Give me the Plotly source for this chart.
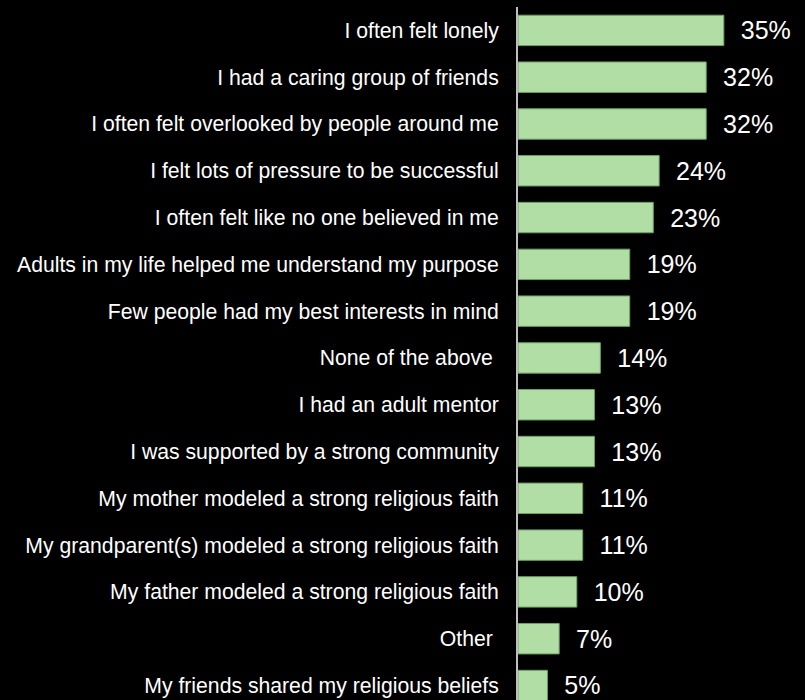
import plotly.graph_objects as go

categories = [
    "I often felt lonely",
    "I had a caring group of friends",
    "I often felt overlooked by people around me",
    "I felt lots of pressure to be successful",
    "I often felt like no one believed in me",
    "Adults in my life helped me understand my purpose",
    "Few people had my best interests in mind",
    "None of the above ",
    "I had an adult mentor",
    "I was supported by a strong community",
    "My mother modeled a strong religious faith",
    "My grandparent(s) modeled a strong religious faith",
    "My father modeled a strong religious faith",
    "Other ",
    "My friends shared my religious beliefs",
]
values = [35, 32, 32, 24, 23, 19, 19, 14, 13, 13, 11, 11, 10, 7, 5]

tick_text = [c[:-1] + "\u00a0" if c.endswith(" ") else c for c in categories]
idx = list(range(len(categories)))

fig = go.Figure(
    go.Bar(
        x=values,
        y=idx,
        orientation="h",
        marker=dict(color="#b1dea5", line=dict(color="#6f9f64", width=1)),
        text=["\u00a0\u00a0" + f"{v}%" for v in values],
        textposition="outside",
        textfont=dict(color="white", size=25, family="Liberation Sans, Arial, sans-serif"),
        cliponaxis=False,
        width=0.65,
        hoverinfo="skip",
    )
)

fig.update_layout(
    width=805,
    height=700,
    paper_bgcolor="black",
    plot_bgcolor="black",
    margin=dict(l=518, r=0, t=7, b=0),
    showlegend=False,
    font=dict(family="Liberation Sans, Arial, sans-serif", color="white"),
    xaxis=dict(
        range=[0, 48.8],
        showgrid=False,
        zeroline=False,
        showticklabels=False,
        showline=False,
        fixedrange=True,
    ),
    yaxis=dict(
        tickmode="array",
        tickvals=idx,
        ticktext=tick_text,
        range=[14.31, -0.5],
        showgrid=False,
        zeroline=False,
        showline=True,
        linecolor="#bfbfbf",
        linewidth=2,
        ticks="outside",
        ticklen=13,
        tickcolor="black",
        tickfont=dict(size=21.2, color="white"),
        automargin=False,
        fixedrange=True,
    ),
)

fig.write_html(
    "out.html",
    config={"displayModeBar": False, "staticPlot": True},
    post_script="document.body.style.margin='0';document.body.style.background='black';document.body.style.overflow='hidden';",
)
